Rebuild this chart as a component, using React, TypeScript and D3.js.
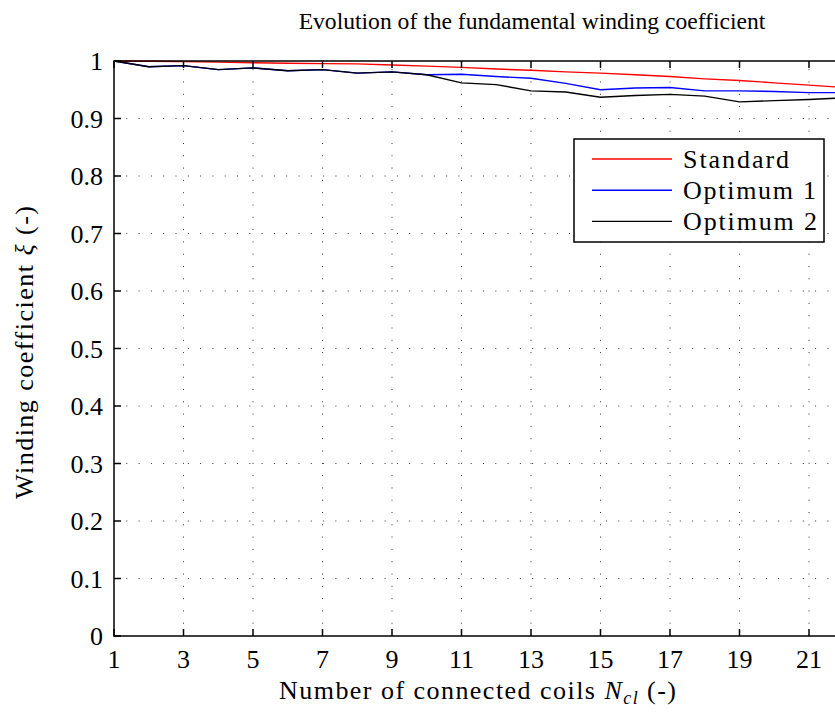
import * as d3 from 'd3';
import React, { useEffect, useRef } from 'react';

// number of connected coils
const coils = [1, 2, 3, 4, 5, 6, 7, 8, 9, 10, 11, 12, 13, 14, 15, 16, 17, 18, 19, 20, 21, 22];

const standard = [1.0, 0.9995, 0.999, 0.998, 0.997, 0.996, 0.9955, 0.995, 0.993, 0.991, 0.989, 0.986, 0.984, 0.981, 0.979, 0.976, 0.973, 0.969, 0.966, 0.962, 0.958, 0.954];
const optimum1 = [1.0, 0.99, 0.992, 0.985, 0.988, 0.983, 0.985, 0.979, 0.981, 0.976, 0.977, 0.973, 0.97, 0.961, 0.95, 0.953, 0.954, 0.948, 0.948, 0.947, 0.945, 0.945];
const optimum2 = [1.0, 0.99, 0.992, 0.985, 0.988, 0.983, 0.985, 0.979, 0.981, 0.976, 0.962, 0.959, 0.948, 0.946, 0.937, 0.94, 0.942, 0.939, 0.929, 0.931, 0.933, 0.936];

const xTicks = [1, 3, 5, 7, 9, 11, 13, 15, 17, 19, 21];
const yTicks = [0, 0.1, 0.2, 0.3, 0.4, 0.5, 0.6, 0.7, 0.8, 0.9, 1];

const seriesNames = ['Standard', 'Optimum 1', 'Optimum 2'];
const seriesColors = ['#ff0000', '#0000ff', '#000000'];
const legendWidths = [106, 133, 134];

const App = () => {
    const ref = useRef(null);
    const width = 835, height = 715;
    const left = 114, top = 61, bottom = 636;
    const font = '"Liberation Serif", "Times New Roman", serif';

    useEffect(() => {
        const svg = d3.select(ref.current);
        svg.selectAll('*').remove();

        var x = d3.scaleLinear().domain([1, 22]).range([left, left + 21 * 34.75]);
        var y = d3.scaleLinear().domain([0, 1]).range([bottom, top]);
        const right = x(22);

        // grid
        svg.append('g').selectAll('line').data(xTicks.slice(1)).join('line')
            .attr('x1', d => x(d)).attr('x2', d => x(d))
            .attr('y1', bottom).attr('y2', top)
            .attr('stroke', '#333').attr('stroke-width', 1)
            .attr('stroke-dasharray', '1,11.3');
        svg.append('g').selectAll('line').data(yTicks.slice(1, -1)).join('line')
            .attr('x1', left).attr('x2', right)
            .attr('y1', d => y(d)).attr('y2', d => y(d))
            .attr('stroke', '#333').attr('stroke-width', 1)
            .attr('stroke-dasharray', '1,11.3');

        // lines
        const line = d3.line<number>()
            .x((d, i) => x(coils[i]))
            .y(d => y(d));
        [standard, optimum1, optimum2].forEach((s, i) => {
            svg.append('path').datum(s)
                .attr('d', line)
                .attr('fill', 'none')
                .attr('stroke', seriesColors[i])
                .attr('stroke-width', 1.4);
        });

        // box and ticks
        const axis = svg.append('g').attr('stroke', '#000').attr('stroke-width', 1.5);
        axis.append('rect').attr('x', left).attr('y', top)
            .attr('width', right - left).attr('height', bottom - top).attr('fill', 'none');
        xTicks.forEach(t => {
            axis.append('line').attr('x1', x(t)).attr('x2', x(t)).attr('y1', bottom).attr('y2', bottom - 7);
            axis.append('line').attr('x1', x(t)).attr('x2', x(t)).attr('y1', top).attr('y2', top + 7);
        });
        yTicks.forEach(t => {
            axis.append('line').attr('x1', left).attr('x2', left + 7).attr('y1', y(t)).attr('y2', y(t));
        });

        // tick labels
        svg.append('g').selectAll('text').data(xTicks).join('text')
            .attr('x', d => x(d)).attr('y', 668)
            .attr('text-anchor', 'middle')
            .style('font-family', font).style('font-size', '26px')
            .text(d => d);
        svg.append('g').selectAll('text').data(yTicks).join('text')
            .attr('x', 103).attr('y', d => y(d) + 9)
            .attr('text-anchor', 'end')
            .style('font-family', font).style('font-size', '26px')
            .text(d => d3.format('~g')(d));

        // title and labels
        svg.append('text').attr('x', 532).attr('y', 29).attr('text-anchor', 'middle')
            .style('font-family', font).style('font-size', '23.6px')
            .text('Evolution of the fundamental winding coefficient');

        const xl = svg.append('text').attr('x', 279).attr('y', 699)
            .attr('textLength', 397).attr('lengthAdjust', 'spacing')
            .style('font-family', font).style('font-size', '26px');
        xl.append('tspan').text('Number of connected coils ');
        xl.append('tspan').style('font-style', 'italic').text('N');
        xl.append('tspan').style('font-style', 'italic').style('font-size', '18px').attr('dy', 5).text('cl');
        xl.append('tspan').attr('dy', -5).text(' (-)');

        const yl = svg.append('text').attr('transform', 'translate(33,499) rotate(-90)')
            .attr('textLength', 293).attr('lengthAdjust', 'spacing')
            .style('font-family', font).style('font-size', '26px');
        yl.append('tspan').text('Winding coefficient ');
        yl.append('tspan').style('font-style', 'italic').text('ξ');
        yl.append('tspan').text(' (-)');

        // legend
        const lg = svg.append('g');
        lg.append('rect').attr('x', 574).attr('y', 139).attr('width', 250).attr('height', 103)
            .attr('fill', '#fff').attr('stroke', '#000').attr('stroke-width', 1.5);
        seriesNames.forEach((n, i) => {
            const cy = 159 + i * 31.2;
            lg.append('line').attr('x1', 592).attr('x2', 672).attr('y1', cy).attr('y2', cy)
                .attr('stroke', seriesColors[i]).attr('stroke-width', 1.4);
            lg.append('text').attr('x', 683).attr('y', cy + 9)
                .attr('textLength', legendWidths[i]).attr('lengthAdjust', 'spacing')
                .style('font-family', font).style('font-size', '26px')
                .text(n);
        });
    }, []);

    return <svg ref={ref} width={width} height={height}
        style={{ position: 'absolute', left: 0, top: 0, background: '#fff' }} />;
}
export default App;
